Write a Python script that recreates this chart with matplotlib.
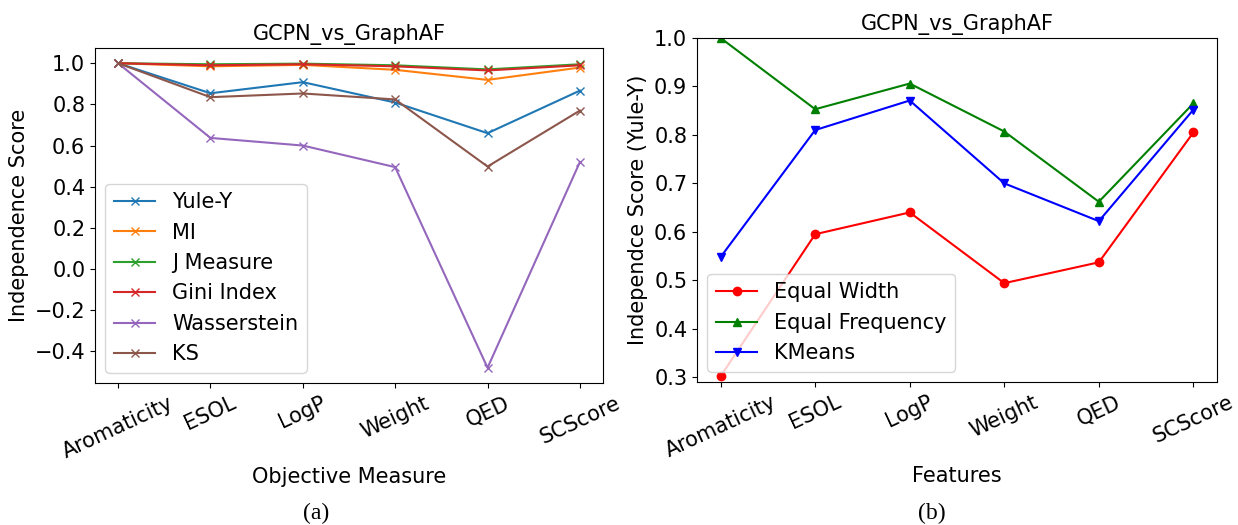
import matplotlib
matplotlib.use("Agg")
import matplotlib.pyplot as plt
from matplotlib.ticker import MultipleLocator

features = ["Aromaticity", "ESOL", "LogP", "Weight", "QED", "SCScore"]

# Panel (a)
yule_y = [1.0, 0.854, 0.908, 0.809, 0.660, 0.867]
mi = [1.0, 0.985, 0.992, 0.968, 0.919, 0.979]
j_measure = [1.0, 0.995, 0.998, 0.990, 0.970, 0.995]
gini = [1.0, 0.990, 0.995, 0.985, 0.965, 0.990]
wasserstein = [1.0, 0.637, 0.600, 0.495, -0.480, 0.520]
ks = [1.0, 0.835, 0.853, 0.824, 0.498, 0.770]
left_series = [("Yule-Y", yule_y), ("MI", mi), ("J Measure", j_measure),
               ("Gini Index", gini), ("Wasserstein", wasserstein), ("KS", ks)]

# Panel (b)
equal_width = [0.302, 0.595, 0.640, 0.494, 0.537, 0.805]
equal_freq = [1.0, 0.853, 0.906, 0.807, 0.662, 0.865]
kmeans = [0.548, 0.810, 0.871, 0.700, 0.622, 0.852]

FS = 15
fig = plt.figure(figsize=(12.38, 5.25), dpi=100)

ax1 = fig.add_axes([95/1238, 1-383/525, 508/1238, 335/525])
x = range(len(features))
for name, vals in left_series:
    ax1.plot(x, vals, marker="x", label=name)
ax1.set_xticks(list(x))
ax1.set_xticklabels(features, rotation=25, fontsize=FS)
ax1.yaxis.set_major_locator(MultipleLocator(0.2))
ax1.tick_params(axis="y", labelsize=FS)
ax1.set_title("GCPN_vs_GraphAF", fontsize=15)
ax1.set_xlabel("Objective Measure", fontsize=FS)
ax1.set_ylabel("Independence Score", fontsize=FS)
ax1.legend(loc="lower left", fontsize=FS)

ax2 = fig.add_axes([697/1238, 1-382/525, 520/1238, 344/525])
ax2.plot(x, equal_width, color="r", marker="o", label="Equal Width")
ax2.plot(x, equal_freq, color="g", marker="^", label="Equal Frequency")
ax2.plot(x, kmeans, color="b", marker="v", label="KMeans")
ax2.set_ylim(0.29, 1.0)
ax2.set_xticks(list(x))
ax2.set_xticklabels(features, rotation=25, fontsize=FS)
ax2.tick_params(axis="y", labelsize=FS)
ax2.set_title("GCPN_vs_GraphAF", fontsize=15)
ax2.set_xlabel("Features", fontsize=FS)
ax2.set_ylabel("Independce Score (Yule-Y)", fontsize=FS)
ax2.legend(loc="lower left", fontsize=FS)

fig.text(316/1238, 1-513/525, "(a)", fontsize=17, family="Liberation Serif",
         ha="center", va="center")
fig.text(932/1238, 1-513/525, "(b)", fontsize=17, family="Liberation Serif",
         ha="center", va="center")

fig.savefig("out.png", dpi=100)
